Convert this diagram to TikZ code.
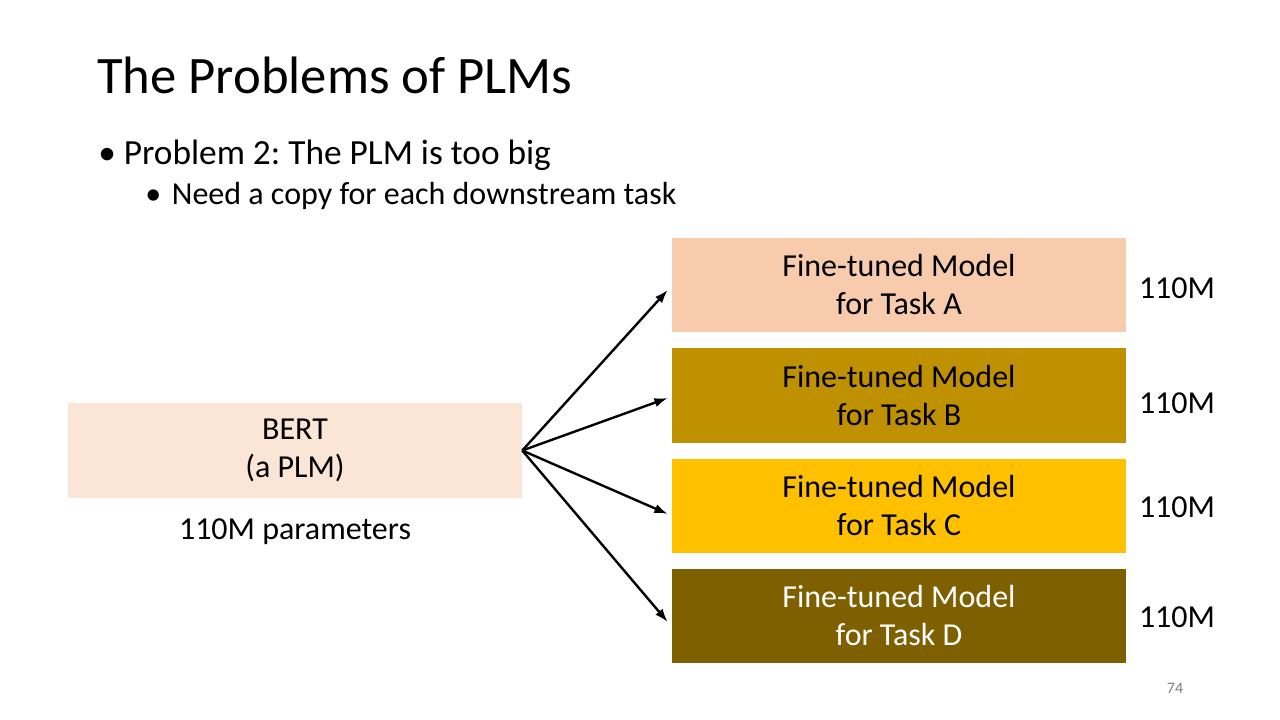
\documentclass[tikz,border=0pt]{standalone}
\usepackage{fontspec}
\setmainfont{Carlito}
\usepackage{tikz}
\usetikzlibrary{arrows.meta}

\definecolor{bertfill}{HTML}{FBE5D6}
\definecolor{taskA}{HTML}{F8CBAD}
\definecolor{taskB}{HTML}{BF9000}
\definecolor{taskC}{HTML}{FFC000}
\definecolor{taskD}{HTML}{7F6000}

\frenchspacing
\begin{document}
\begin{tikzpicture}[x=0.75pt, y=-0.75pt,
    model/.style={rectangle, minimum width=340.5pt, minimum height=71pt, align=center, inner sep=0pt, font=\fontsize{24}{28.5}\selectfont},
    param/.style={font=\fontsize{24}{28}\selectfont},
    fan/.style={-{Latex[length=10pt, width=7pt]}, line width=1.8pt}]
    \useasboundingbox[fill=white] (0,0) rectangle (1280,720);

    % Title and bullets
    \node[anchor=west, inner sep=0pt, font=\fontsize{39.5}{47}\selectfont] (title) at (97,75) {The Problems of PLMs};
    \node[anchor=west, inner sep=0pt, font=\fontsize{26.5}{32}\selectfont] (prob) at (98,155) {\textbullet\hspace{6pt}Problem 2: The PLM is too big};
    \node[anchor=west, inner sep=0pt, font=\fontsize{24}{28}\selectfont] (copy) at (145,196) {\textbullet\hspace{8pt}Need a copy for each downstream task};

    % Nodes
    \node[model, fill=bertfill] (bert) at (295,450.5) {BERT\\(a PLM)};
    \node[param] (bertsize) at (295,532) {110M parameters};
    \node[model, fill=taskA] (A) at (899,285) {Fine-tuned Model\\for Task A};
    \node[model, fill=taskB] (B) at (899,395.5) {Fine-tuned Model\\for Task B};
    \node[model, fill=taskC] (C) at (899,506) {Fine-tuned Model\\for Task C};
    \node[model, fill=taskD, text=white] (D) at (899,616) {Fine-tuned Model\\for Task D};
    \node[param] (sizeA) at (1177,288) {110M};
    \node[param] (sizeB) at (1177,403) {110M};
    \node[param] (sizeC) at (1177,507) {110M};
    \node[param] (sizeD) at (1177,617) {110M};
    \node[text=gray, font=\fontsize{12}{14}\selectfont] (page) at (1175,688) {74};

    % Arrows
    \draw[fan] (bert.east) -- ([xshift=-3pt]A.west |- 0,290);
    \draw[fan] (bert.east) -- ([xshift=-3pt]B.west |- 0,398);
    \draw[fan] (bert.east) -- ([xshift=-3pt]C.west |- 0,514);
    \draw[fan] (bert.east) -- ([xshift=-3pt]D.west |- 0,622);
\end{tikzpicture}
\end{document}
